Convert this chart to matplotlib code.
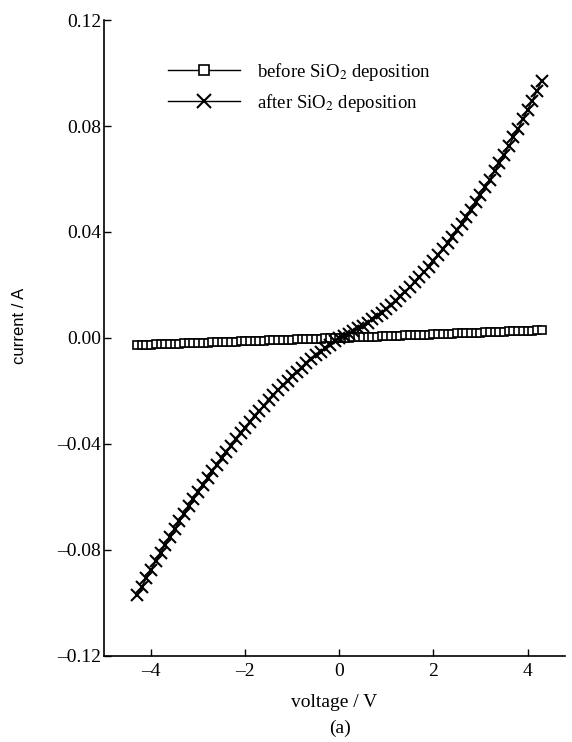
import numpy as np
import matplotlib
matplotlib.use("Agg")
import matplotlib.pyplot as plt

plt.rcParams["font.family"] = ["Liberation Serif", "DejaVu Serif"]
plt.rcParams["mathtext.fontset"] = "stix"

# Sweep voltage (V), 0.1 V steps
voltage = np.round(np.linspace(-4.3, 4.3, 87), 1)

# Current before SiO2 deposition (A)
current_before = [
    -0.00271, -0.00265, -0.00258, -0.00252, -0.00246, -0.00239, -0.00233, -0.00227,
    -0.00221, -0.00214, -0.00208, -0.00202, -0.00195, -0.00189, -0.00183, -0.00176,
    -0.00170, -0.00164, -0.00158, -0.00151, -0.00145, -0.00139, -0.00132, -0.00126,
    -0.00120, -0.00113, -0.00107, -0.00101, -0.00095, -0.00088, -0.00082, -0.00076,
    -0.00069, -0.00063, -0.00057, -0.00050, -0.00044, -0.00038, -0.00032, -0.00025,
    -0.00019, -0.00013, -0.00006, 0.0,
    0.00007, 0.00014, 0.00020, 0.00027, 0.00034, 0.00041, 0.00048, 0.00054,
    0.00061, 0.00068, 0.00075, 0.00082, 0.00088, 0.00095, 0.00102, 0.00109,
    0.00116, 0.00122, 0.00129, 0.00136, 0.00143, 0.00150, 0.00156, 0.00163,
    0.00170, 0.00177, 0.00184, 0.00190, 0.00197, 0.00204, 0.00211, 0.00218,
    0.00224, 0.00231, 0.00238, 0.00245, 0.00252, 0.00258, 0.00265, 0.00272,
    0.00279, 0.00286, 0.00292,
]

# Current after SiO2 deposition (A)
current_after = [
    -0.0971, -0.0938, -0.0906, -0.0874, -0.0842, -0.0811, -0.0781, -0.0751,
    -0.0721, -0.0692, -0.0664, -0.0636, -0.0608, -0.0581, -0.0555, -0.0529,
    -0.0503, -0.0478, -0.0454, -0.0430, -0.0406, -0.0383, -0.0360, -0.0338,
    -0.0317, -0.0296, -0.0275, -0.0255, -0.0235, -0.0216, -0.0198, -0.0179,
    -0.0162, -0.0145, -0.0128, -0.0112, -0.0096, -0.0081, -0.0066, -0.0052,
    -0.0038, -0.0025, -0.0012, 0.0,
    0.0008, 0.0016, 0.0026, 0.0036, 0.0046, 0.0058, 0.0070, 0.0082,
    0.0096, 0.0110, 0.0125, 0.0140, 0.0157, 0.0174, 0.0191, 0.0210,
    0.0229, 0.0248, 0.0269, 0.0290, 0.0312, 0.0334, 0.0358, 0.0382,
    0.0406, 0.0432, 0.0458, 0.0484, 0.0512, 0.0540, 0.0569, 0.0598,
    0.0629, 0.0660, 0.0691, 0.0724, 0.0757, 0.0790, 0.0825, 0.0860,
    0.0896, 0.0932, 0.0970,
]

x_ticks = [-4, -2, 0, 2, 4]
y_ticks = [-0.12, -0.08, -0.04, 0.00, 0.04, 0.08, 0.12]

fig = plt.figure(figsize=(5.72, 7.42), dpi=100)
ax = fig.add_axes([0.182, 0.116, 0.806, 0.857])

ax.plot(voltage, current_before, color="black", lw=1.0, marker="s",
        markersize=5.5, markerfacecolor="white", markeredgewidth=1.2,
        label="before SiO$_2$ deposition")
ax.plot(voltage, current_after, color="black", lw=1.0, marker="x",
        markersize=8, markeredgewidth=1.5,
        label="after SiO$_2$ deposition")

ax.set_xlim(-5, 4.8)
ax.set_ylim(-0.12, 0.12)
ax.set_xticks(x_ticks)
ax.set_xticklabels(["\u20134", "\u20132", "0", "2", "4"])
ax.set_yticks(y_ticks)
ax.set_yticklabels([("\u2013" if v < 0 else "") + f"{abs(v):.2f}" for v in y_ticks])
ax.tick_params(direction="in", length=5, width=1, labelsize=14)
ax.tick_params(axis="y", pad=2)
ax.tick_params(axis="x", pad=5)

for side in ("top", "right"):
    ax.spines[side].set_visible(False)
for side in ("left", "bottom"):
    ax.spines[side].set_linewidth(1.2)

ax.set_xlabel("voltage / V", fontsize=14, labelpad=10)
ax.set_ylabel("current / A", fontsize=12, family="Liberation Sans", va="center")
ax.yaxis.set_label_coords(-0.184, 0.519)
fig.text(0.594, 0.019, "(a)", fontsize=14, ha="center", va="center")

ax.legend(loc="upper left", bbox_to_anchor=(0.139, 0.936), frameon=False,
          fontsize=13.5, handlelength=3.84, handletextpad=0.9,
          labelspacing=0.48, borderpad=0, borderaxespad=0, markerscale=1.2)

fig.savefig("out.png", dpi=100)
